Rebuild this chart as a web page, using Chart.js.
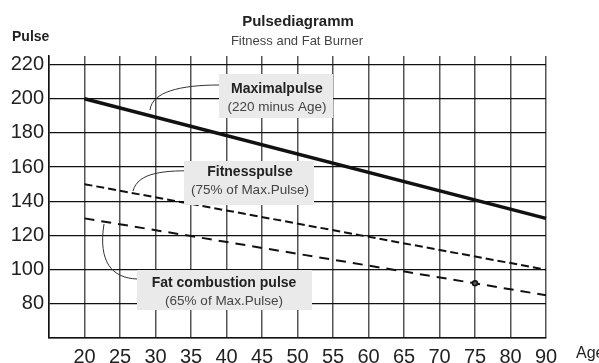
<!DOCTYPE html>
<html>
<head>
<meta charset="utf-8">
<script src="https://cdn.jsdelivr.net/npm/chart.js@4.4.0/dist/chart.umd.min.js"></script>
<style>
  html, body { margin: 0; padding: 0; background: #fff; }
  #wrap { width: 599px; height: 363px; }
</style>
</head>
<body>
<div id="wrap"><canvas id="pulse" width="599" height="363"></canvas></div>
<script>
// ages along the bottom (first slot is the empty column left of 20)
const ages = ['', '20', '25', '30', '35', '40', '45', '50', '55', '60', '65', '70', '75', '80', '90'];
const pulseTicks = [80, 100, 120, 140, 160, 180, 200, 220];

// pulse values per age, only where the lines are anchored
const maxPulse     = [null, 200, null, null, null, null, null, null, null, null, null, null, null, null, 130];
const fitnessPulse = [null, 150, null, null, null, null, null, null, null, null, null, null, null, null, 100];
const fatPulse     = [null, 130, null, null, null, null, null, null, null, null, null, null, 92, null, 85];

const FONT = '"Liberation Sans", Arial, sans-serif';

// callout boxes with leader lines
const callouts = [
  { box: [219, 74, 114, 44], title: 'Maximalpulse', sub: '(220 minus Age)', cx: 277, ty: 93, sy: 111,
    leader: [[150, 110], [152, 92], [180, 85], [219, 85]] },
  { box: [184, 161, 130, 44], title: 'Fitnesspulse', sub: '(75% of Max.Pulse)', cx: 250, ty: 176, sy: 194,
    leader: [[133, 191], [138, 172], [165, 170], [200, 171]] },
  { box: [137, 270, 175, 40], title: 'Fat combustion pulse', sub: '(65% of Max.Pulse)', cx: 224, ty: 287, sy: 305,
    leader: [[104, 224], [98, 262], [112, 278], [137, 279]] }
];

const decorations = {
  id: 'decorations',
  afterDatasetsDraw(chart) {
    const ctx = chart.ctx;
    ctx.save();
    callouts.forEach(c => {
      const [p0, p1, p2, p3] = c.leader;
      ctx.strokeStyle = '#333';
      ctx.lineWidth = 1;
      ctx.beginPath();
      ctx.moveTo(p0[0], p0[1]);
      ctx.bezierCurveTo(p1[0], p1[1], p2[0], p2[1], p3[0], p3[1]);
      ctx.stroke();

      ctx.fillStyle = '#ebeaea';
      ctx.fillRect(c.box[0], c.box[1], c.box[2], c.box[3]);

      ctx.textAlign = 'center';
      ctx.textBaseline = 'alphabetic';
      ctx.fillStyle = '#222';
      ctx.font = 'bold 14px ' + FONT;
      ctx.fillText(c.title, c.cx, c.ty);
      ctx.fillStyle = '#444';
      ctx.font = '13.5px ' + FONT;
      ctx.fillText(c.sub, c.cx, c.sy);
    });
    ctx.restore();
  },
  afterDraw(chart) {
    const ctx = chart.ctx;
    ctx.save();
    ctx.textBaseline = 'alphabetic';
    ctx.fillStyle = '#222';
    ctx.textAlign = 'center';
    ctx.font = 'bold 15px ' + FONT;
    ctx.fillText('Pulsediagramm', 298, 26);
    ctx.fillStyle = '#444';
    ctx.font = '13px ' + FONT;
    ctx.fillText('Fitness and Fat Burner', 297, 45);

    ctx.fillStyle = '#222';
    ctx.textAlign = 'left';
    ctx.font = 'bold 14px ' + FONT;
    ctx.fillText('Pulse', 12, 41);
    ctx.font = '16px ' + FONT;
    ctx.fillText('Age', 576, 358);
    ctx.restore();
  }
};

new Chart(document.getElementById('pulse'), {
  type: 'line',
  data: {
    labels: ages,
    datasets: [
      {
        label: 'Maximalpulse',
        data: maxPulse,
        borderColor: '#111',
        borderWidth: 3.5,
        pointRadius: 0,
        spanGaps: true
      },
      {
        label: 'Fitnesspulse',
        data: fitnessPulse,
        borderColor: '#111',
        borderWidth: 2,
        borderDash: [8, 4],
        pointRadius: 0,
        spanGaps: true
      },
      {
        label: 'Fat combustion pulse',
        data: fatPulse,
        borderColor: '#111',
        borderWidth: 2,
        borderDash: [10, 7],
        pointRadius: ctx => (ctx.dataIndex === 12 ? 2.5 : 0),
        pointBackgroundColor: '#555',
        pointBorderColor: '#111',
        pointBorderWidth: 1.5,
        spanGaps: true
      }
    ]
  },
  options: {
    responsive: false,
    animation: false,
    layout: { padding: { top: 56, right: 53, bottom: 0, left: 0 } },
    plugins: {
      legend: { display: false },
      tooltip: { enabled: false }
    },
    scales: {
      x: {
        offset: false,
        afterFit: s => { s.height = 25; },
        grid: { color: '#555', lineWidth: 1.5, drawTicks: false },
        border: { color: '#111', width: 1.5 },
        ticks: {
          autoSkip: false,
          maxRotation: 0,
          padding: 7,
          color: '#222',
          font: { family: FONT, size: 20 }
        }
      },
      y: {
        min: 60,
        max: 225,
        afterFit: s => { s.width = 49; },
        // fixed ticks: 60 (bottom edge) up to 220, plus the unlabeled top edge
        afterBuildTicks: s => {
          s.ticks = [60].concat(pulseTicks, [225]).map(v => ({ value: v }));
        },
        grid: {
          color: c => (c.tick && c.tick.value === 225 ? 'rgba(0,0,0,0)' : '#111'),
          lineWidth: 1.2,
          drawTicks: false
        },
        border: { color: '#111', width: 1.5 },
        ticks: {
          padding: 5,
          color: '#222',
          font: { family: FONT, size: 20 },
          callback: v => (pulseTicks.includes(v) ? String(v) : '')
        }
      }
    }
  },
  plugins: [decorations]
});
</script>
</body>
</html>
